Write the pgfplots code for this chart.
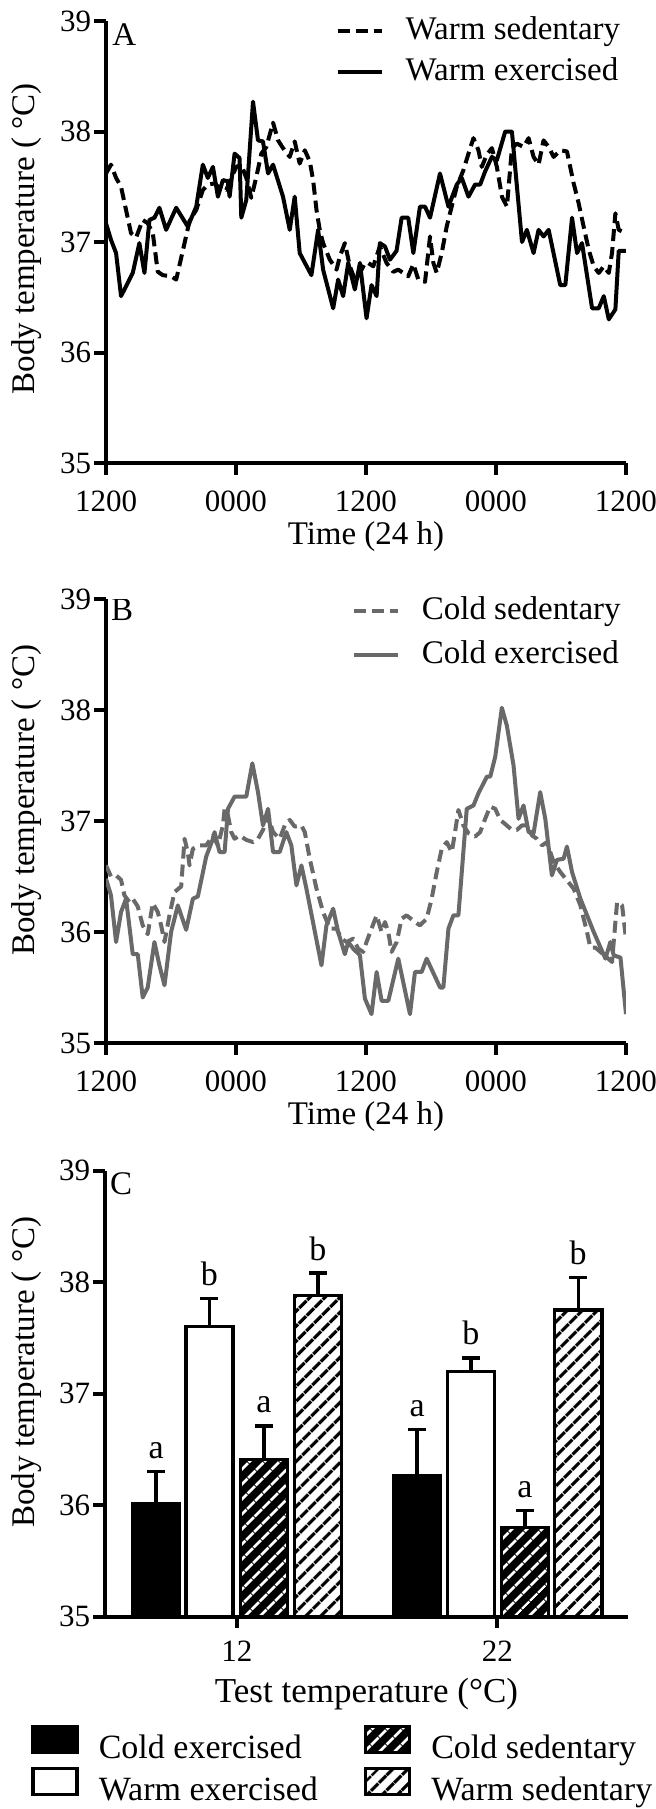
\documentclass[border=0pt]{standalone}
\usepackage{fontspec}
\setmainfont{Liberation Serif}
\usepackage{pgfplots}
\pgfplotsset{compat=1.18}
\usetikzlibrary{patterns.meta}

\definecolor{cgray}{RGB}{105,105,105}

\pgfplotstableread{
h t
0 37.17
0.46 37.02
0.93 36.90
1.39 36.51
1.85 36.60
2.47 36.72
3.08 36.99
3.55 36.72
4.01 37.20
4.47 37.22
4.93 37.31
5.55 37.11
6.48 37.31
7.55 37.14
8.33 37.32
8.94 37.70
9.40 37.58
9.87 37.68
10.33 37.41
10.79 37.56
11.25 37.55
11.41 37.41
11.87 37.80
12.33 37.76
12.49 37.22
12.95 37.38
13.57 38.27
14.03 37.92
14.49 37.91
14.96 37.62
15.42 37.70
16.34 37.41
16.96 37.11
17.42 37.41
17.88 36.90
18.96 36.70
19.58 37.11
20.04 36.75
20.97 36.40
21.43 36.66
21.89 36.51
22.36 36.81
22.97 36.57
23.44 36.81
24.05 36.31
24.51 36.61
24.98 36.51
25.28 36.99
25.75 36.96
26.21 36.84
26.82 36.92
27.29 37.22
27.90 37.22
28.37 36.90
28.98 37.32
29.45 37.32
29.91 37.22
30.83 37.62
31.61 37.32
32.38 37.52
32.84 37.58
33.46 37.41
34.07 37.52
34.54 37.52
35.00 37.64
35.62 37.77
36.08 37.74
36.85 38.00
37.47 38.00
38.40 37.00
38.85 37.11
39.47 36.90
39.93 37.11
40.39 37.05
40.86 37.11
41.93 36.61
42.40 36.61
43.02 37.22
43.48 36.90
43.94 36.99
44.87 36.40
45.48 36.40
45.95 36.51
46.41 36.30
47.02 36.39
47.33 36.92
48.00 36.92
}\warmex

\pgfplotstableread{
h t
0 37.62
0.46 37.70
0.93 37.58
1.39 37.50
1.85 37.29
2.31 37.08
2.78 37.04
3.39 37.20
3.85 37.17
4.32 37.08
4.78 36.73
5.24 36.70
6.01 36.69
6.48 36.66
7.25 36.99
7.71 37.19
8.33 37.29
8.94 37.47
9.40 37.52
10.02 37.53
10.48 37.49
11.10 37.47
11.56 37.58
12.03 37.68
12.49 37.70
12.95 37.58
13.41 37.40
13.88 37.59
14.34 37.80
14.80 37.86
15.42 38.08
15.88 37.92
16.34 37.85
16.96 37.77
17.42 37.91
17.88 37.71
18.35 37.83
18.81 37.73
19.12 37.56
19.43 37.29
19.73 37.11
20.04 36.99
20.66 36.84
21.28 36.75
21.59 36.87
22.05 36.99
22.51 36.78
22.97 36.66
23.44 36.72
23.90 36.81
24.21 36.81
24.67 36.78
25.28 36.96
25.90 36.81
26.52 36.73
26.98 36.75
27.44 36.72
27.90 36.69
28.37 36.80
28.83 36.66
29.45 36.64
29.91 37.05
30.22 36.81
30.53 36.72
30.99 36.90
31.45 37.14
31.91 37.32
32.38 37.50
32.99 37.65
33.46 37.80
33.92 37.94
34.38 37.83
34.69 37.68
35.15 37.79
35.62 37.85
36.08 37.68
36.55 37.41
37.01 37.32
37.47 37.85
37.93 37.89
38.54 37.86
39.01 37.94
39.47 37.77
39.93 37.70
40.39 37.92
40.86 37.86
41.32 37.77
41.94 37.83
42.55 37.82
43.17 37.53
43.63 37.35
44.09 37.14
44.56 36.93
45.02 36.78
45.48 36.72
45.95 36.78
46.41 36.72
46.71 36.90
47.02 37.26
47.33 37.11
48.00 37.08
}\warmsed

\pgfplotstableread{
h t
0 36.48
0.46 36.33
0.93 35.91
1.39 36.18
1.85 36.30
2.47 35.80
2.93 35.80
3.39 35.41
3.85 35.50
4.47 35.91
4.93 35.70
5.40 35.52
6.01 36.00
6.63 36.24
7.40 36.02
8.02 36.30
8.48 36.32
9.25 36.68
9.87 36.84
10.02 36.90
10.48 36.72
10.95 36.72
11.26 37.11
11.87 37.22
12.95 37.22
13.51 37.52
14.03 37.26
14.49 36.96
14.96 37.11
15.42 36.72
16.03 36.72
16.65 36.90
17.11 36.78
17.58 36.42
18.04 36.60
18.50 36.39
19.89 35.70
20.35 36.06
20.97 36.21
21.43 36.00
22.05 35.80
22.36 35.91
22.82 35.85
23.44 35.79
23.90 35.40
24.51 35.26
24.98 35.64
25.44 35.38
26.06 35.38
26.98 35.76
28.06 35.26
28.52 35.64
29.14 35.64
29.60 35.76
30.84 35.50
31.14 35.50
31.61 36.03
32.07 36.15
32.53 36.15
33.30 37.11
33.92 37.14
34.38 37.25
35.16 37.40
35.47 37.40
35.93 37.58
36.54 38.02
37.00 37.86
37.62 37.50
38.08 37.02
38.54 37.14
39.01 36.90
39.47 36.89
40.08 37.26
40.55 37.02
41.16 36.51
41.63 36.65
42.24 36.66
42.55 36.77
43.02 36.54
43.79 36.30
45.02 36.00
46.10 35.76
46.56 35.91
46.87 35.79
47.49 35.77
48.00 35.26
}\coldex

\pgfplotstableread{
h t
0 36.60
0.46 36.50
0.93 36.51
1.39 36.47
1.70 36.33
2.16 36.27
2.47 36.30
2.93 36.23
3.39 36.06
3.85 35.98
4.32 36.26
4.78 36.18
5.09 36.06
5.40 35.91
5.86 36.15
6.32 36.36
6.94 36.41
7.25 36.84
7.55 36.72
7.71 36.60
8.02 36.75
8.63 36.78
9.25 36.78
9.87 36.87
10.33 36.78
10.79 36.96
10.95 37.11
11.26 37.05
11.56 36.90
11.87 36.84
12.33 36.87
12.95 36.83
13.57 36.81
14.03 36.84
14.49 36.92
14.96 37.05
15.42 36.90
16.03 36.84
16.50 36.96
16.96 37.01
17.42 36.95
18.04 36.96
18.35 36.90
18.81 36.66
19.43 36.39
20.04 36.18
20.66 36.03
21.28 36.03
21.74 35.94
22.20 35.91
22.82 35.94
23.28 35.85
23.74 35.82
24.05 35.91
24.51 36.03
24.98 36.15
25.44 36.00
25.75 36.09
26.06 36.00
26.36 35.82
26.83 35.91
27.29 36.12
27.75 36.15
28.52 36.09
28.98 36.06
29.60 36.12
30.06 36.30
30.53 36.54
30.99 36.75
31.45 36.81
31.92 36.72
32.22 36.90
32.53 37.10
32.99 36.96
33.46 36.89
34.07 36.86
34.54 36.90
35.00 37.02
35.46 37.13
35.93 37.11
36.39 37.01
37.00 36.96
37.47 36.92
37.93 36.92
38.39 36.96
38.86 36.96
39.32 36.87
39.78 36.84
40.25 36.78
40.71 36.81
41.32 36.63
41.94 36.54
43.17 36.39
43.79 36.24
44.40 36.00
44.71 35.86
45.17 35.86
46.25 35.77
46.71 35.73
47.18 36.27
47.64 36.24
48.00 35.94
}\coldsed

\newcommand{\lblfont}{\fontsize{16.5}{20}\selectfont}
\newcommand{\tkfont}{\fontsize{15.5}{18}\selectfont}

\pgfplotsset{
  panel/.style={
    scale only axis, anchor=south west,
    axis lines=left,
    axis line style={-, line width=2pt, black},
    major tick style={line width=2pt, black},
    tick align=outside, major tick length=5.75pt,
    ymin=35, ymax=39, ytick={35,36,37,38,39},
    yticklabels={\textrm{35},\textrm{36},\textrm{37},\textrm{38},\textrm{39}},
    tick label style={font=\tkfont, black},
    yticklabel style={inner sep=1.5pt},
    legend style={draw=none, fill=none, inner sep=0pt,
      font=\lblfont, legend cell align=left,
      anchor=north west,
      nodes={inner sep=1pt, text height=12pt, text depth=4pt}},
  },
  lineleg/.style={legend image code/.code={
      \draw[##1, line width=2pt] (0pt,0pt) -- (22pt,0pt);
      \path (32pt,0pt);}},
  timex/.style={
    xmin=0, xmax=48, xtick={0,12,24,36,48},
    xticklabels={\textrm{1200},\textrm{0000},\textrm{1200},\textrm{0000},\textrm{1200}},
    xticklabel style={yshift=-4.5pt},
    xlabel={Time (24 h)}, ylabel={Body temperature ( °C)},
    every axis x label/.style={at={(axis description cs:0.5,0)}, anchor=center, yshift=-37pt, font=\lblfont},
  },
  ebars/.style={
    error bars/y dir=plus, error bars/y explicit,
    error bars/error mark=-,
    error bars/error bar style={line width=1.7pt, black},
    error bars/error mark options={rotate=90, line width=1.7pt, mark size=4.5pt, black, solid}},
}

\begin{document}
\begin{tikzpicture}
% ---------------- Panel A ----------------
\begin{axis}[panel, lineleg, timex,
  at={(53pt,-231.5pt)}, width=260pt, height=221pt,
  every axis y label/.style={at={(axis description cs:-0.152,0.507)}, rotate=90, anchor=center, font=\lblfont},
  legend style={at={(axis description cs:0.441,1.018)}, row sep=2.5pt},
]
\addplot[black, line width=2pt, line join=round, dash pattern=on 6pt off 3pt] table[x=h,y=t] {\warmsed};
\addplot[black, line width=2pt, line join=round] table[x=h,y=t] {\warmex};
\legend{Warm sedentary, Warm exercised}
\node[font=\lblfont] at (axis description cs:0.035,0.97) {A};
\end{axis}

% ---------------- Panel B ----------------
\begin{axis}[panel, lineleg, timex,
  at={(53pt,-521.5pt)}, width=260pt, height=222pt,
  every axis y label/.style={at={(axis description cs:-0.152,0.547)}, rotate=90, anchor=center, font=\lblfont},
  legend style={at={(axis description cs:0.472,1.0135)}, row sep=3.8pt},
]
\addplot[cgray, line width=2pt, line join=round, dash pattern=on 6pt off 3pt] table[x=h,y=t] {\coldsed};
\addplot[cgray, line width=2pt, line join=round] table[x=h,y=t] {\coldex};
\legend{Cold sedentary, Cold exercised}
\node[font=\lblfont] at (axis description cs:0.031,0.975) {B};
\end{axis}

% ---------------- Panel C ----------------
\begin{axis}[panel, axis on top,
  at={(52.5pt,-808.25pt)}, width=261.5pt, height=223pt,
  xmin=-0.506, xmax=1.501, xtick={0,1}, xticklabels={\textrm{12},\textrm{22}},
  xticklabel style={yshift=-3pt},
  xlabel={Test temperature (°C)}, ylabel={Body temperature ( °C)},
  every axis x label/.style={at={(axis description cs:0.5,0)}, anchor=center, yshift=-39pt, font=\fontsize{17.5}{20}\selectfont},
  every axis y label/.style={at={(axis description cs:-0.149,0.548)}, rotate=90, anchor=center, font=\lblfont},
  legend columns=2,
  legend style={at={(axis description cs:-0.1415,-0.242)}, row sep=-0.8pt,
    font=\fontsize{17}{20}\selectfont,
    /tikz/every even column/.append style={column sep=22pt}},
  legend image code/.code={
      \draw[#1] (0pt,-1pt) rectangle (22pt,12pt);
      \path (31pt,0pt);},
  bar width=0.181,
]
\addplot[ybar, bar shift=0pt, draw=black, fill=black, line width=1.7pt, ebars]
  table[x=x, y=y, y error=e] {
x y e
-0.310 36.01 0.29
0.692 36.26 0.42
};
\addplot[ybar, bar shift=0pt, draw=black, fill=black, line width=1.7pt,
  postaction={pattern color=white, pattern={Lines[angle=45,distance=5.4pt,line width=1.5pt]}}, ebars]
  table[x=x, y=y, y error=e] {
x y e
0.104 36.41 0.30
1.105 35.80 0.15
};
\addplot[ybar, bar shift=0pt, draw=black, fill=white, line width=1.7pt, ebars]
  table[x=x, y=y, y error=e] {
x y e
-0.105 37.60 0.25
0.898 37.20 0.12
};
\addplot[ybar, bar shift=0pt, draw=black, fill=white, line width=1.7pt,
  postaction={pattern color=black, pattern={Lines[angle=45,distance=5.4pt,line width=1.75pt]}}, ebars]
  table[x=x, y=y, y error=e] {
x y e
0.311 37.88 0.20
1.310 37.75 0.29
};
\legend{Cold exercised, Cold sedentary, Warm exercised, Warm sedentary}
\addplot[forget plot, draw=none, mark=none, nodes near coords,
  point meta=explicit symbolic,
  nodes near coords style={anchor=base, yshift=6.5pt, inner sep=0pt, font=\fontsize{17}{20}\selectfont, black}]
  table[x=x, y=y, meta=l] {
x y l
-0.310 36.30 a
-0.105 37.85 b
0.104 36.71 a
0.311 38.08 b
0.692 36.68 a
0.898 37.32 b
1.105 35.95 a
1.310 38.04 b
};
\node[font=\lblfont] at (axis description cs:0.031,0.97) {C};
\end{axis}

\pgfresetboundingbox
\path[use as bounding box] (0pt,0pt) rectangle (328pt,-904.5pt);
\end{tikzpicture}
\end{document}
